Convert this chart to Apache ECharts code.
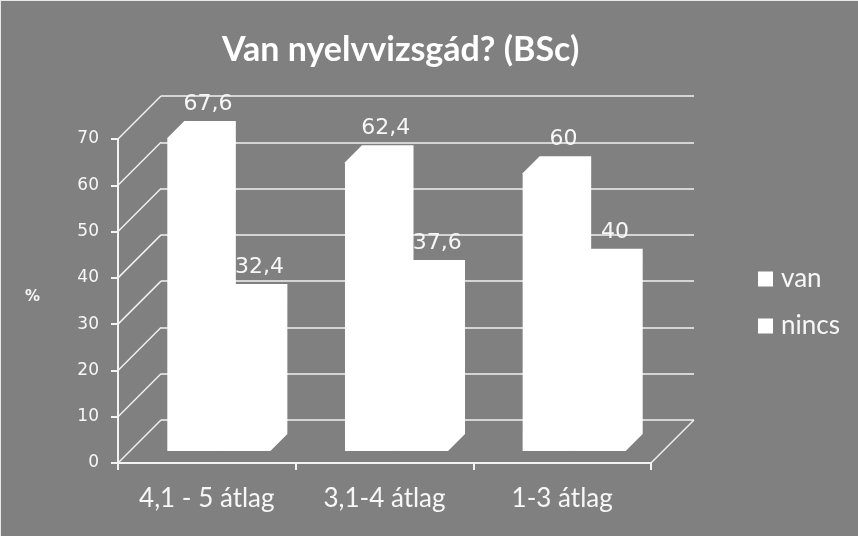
<!DOCTYPE html>
<html>
<head>
<meta charset="utf-8">
<script src="https://cdn.jsdelivr.net/npm/echarts@6/dist/echarts.min.js"></script>
<style>
html,body{margin:0;padding:0;background:#808080;}
#chart{width:858px;height:536px;box-sizing:border-box;border-top:1px solid #e8e8e8;border-left:1px solid #e8e8e8;}
</style>
</head>
<body>
<div id="chart"></div>
<script>
const categories = ['4,1 - 5 átlag', '3,1-4 átlag', '1-3 átlag'];
const vanValues = [67.6, 62.4, 60];
const nincsValues = [32.4, 37.6, 40];
const yTicks = [0, 10, 20, 30, 40, 50, 60, 70];
const seriesNames = ['van', 'nincs'];

const LINE = '#f2f2f2';
const TEXT = '#f7f7f7';
const WALL = 43;      // depth of the 3D box in px
const BAR_D0 = 12;    // bar front offset in depth
const BAR_D = 17;     // bar depth
const BAR_W = 0.29;   // bar width as fraction of band

const chart = echarts.init(document.getElementById('chart'), null, {renderer: 'canvas'});

function fmt(v) { return String(v).replace('.', ','); }

function barRenderer(k) {
  return function (params, api) {
    const ci = api.value(0), v = api.value(1);
    const base = api.coord([ci, 0]);
    const top = api.coord([ci, v]);
    const band = api.size([1, 0])[0];
    const bw = band * BAR_W;
    const cx = base[0] + BAR_D0;
    const x0 = cx + (k === 0 ? -bw : 0);
    const x1 = x0 + bw;
    const yb = base[1] - BAR_D0;
    const yt = top[1] - BAR_D0;
    const d = BAR_D;
    return {
      type: 'group',
      children: [
        {
          type: 'polygon',
          shape: {points: [[x0, yb], [x0, yt], [x0 + d, yt - d], [x1 + d, yt - d], [x1 + d, yb - d], [x1, yb]]},
          style: {fill: '#ffffff', stroke: null}
        },
        {
          type: 'text',
          z2: 10,
          style: {
            text: fmt(v), x: (x0 + x1) / 2 + d - 2, y: yt - d - 17,
            align: 'center', verticalAlign: 'middle',
            fill: TEXT, font: '22px "DejaVu Sans"'
          }
        }
      ]
    };
  };
}

function wallRenderer(params, api) {
  const v = api.value(1);
  const p = api.coord([0, v]);
  const band = api.size([1, 0])[0];
  const xl = p[0] - band / 2;
  const children = [{
    type: 'line',
    shape: {x1: xl, y1: p[1], x2: xl + WALL, y2: p[1] - WALL},
    style: {stroke: LINE, lineWidth: 1.5}
  }];
  if (v === 0) {
    const pr = api.coord([categories.length - 1, 0]);
    const xr = pr[0] + band / 2;
    children.push({
      type: 'line',
      shape: {x1: xr, y1: pr[1], x2: xr + WALL, y2: pr[1] - WALL},
      style: {stroke: LINE, lineWidth: 1.5}
    });
  }
  return {type: 'group', children: children};
}

const option = {
  backgroundColor: '#808080',
  animation: false,
  title: {
    text: 'Van nyelvvizsgád? (BSc)',
    left: 216, top: 27,
    textStyle: {color: '#ffffff', fontFamily: 'Lato', fontWeight: 'bold', fontSize: 34}
  },
  legend: {
    orient: 'vertical',
    left: 752, top: 260,
    itemWidth: 15, itemHeight: 15, itemGap: 21,
    icon: 'rect',
    data: seriesNames,
    textStyle: {color: TEXT, fontFamily: 'Lato', fontSize: 26, padding: [0, 0, 0, 3]}
  },
  graphic: [{
    type: 'text', left: 24, top: 289,
    style: {text: '%', fill: TEXT, font: 'bold 15px "DejaVu Sans"'}
  }],
  grid: [
    {left: 117, top: 138, width: 533, height: 324},
    {left: 117 + WALL, top: 138 - WALL, width: 533, height: 324}
  ],
  xAxis: [
    {
      type: 'category', gridIndex: 0, data: categories,
      axisLine: {lineStyle: {color: LINE, width: 2}},
      axisTick: {show: true, length: 7, lineStyle: {color: LINE, width: 2}},
      axisLabel: {color: TEXT, fontFamily: 'Lato', fontSize: 26, margin: 23},
      splitLine: {show: false}
    },
    {
      type: 'category', gridIndex: 1, data: categories, show: false
    }
  ],
  yAxis: [
    {
      type: 'value', gridIndex: 0, min: 0, max: 70, interval: 10,
      axisLine: {show: true, lineStyle: {color: LINE, width: 2}},
      axisTick: {show: true, length: 7, lineStyle: {color: LINE, width: 2}},
      axisLabel: {color: TEXT, fontFamily: 'DejaVu Sans', fontSize: 17, margin: 19},
      splitLine: {show: false}
    },
    {
      type: 'value', gridIndex: 1, min: 0, max: 70, interval: 10,
      axisLine: {show: false}, axisTick: {show: false}, axisLabel: {show: false},
      splitLine: {show: true, lineStyle: {color: LINE, width: 1.5}}
    }
  ],
  series: [
    {
      type: 'custom', name: 'walls', xAxisIndex: 0, yAxisIndex: 0, z: 1,
      renderItem: wallRenderer, silent: true,
      data: yTicks.map(v => [0, v])
    },
    {
      type: 'custom', name: 'van', xAxisIndex: 0, yAxisIndex: 0, z: 3,
      itemStyle: {color: '#ffffff'},
      renderItem: barRenderer(0),
      data: vanValues.map((v, i) => [i, v])
    },
    {
      type: 'custom', name: 'nincs', xAxisIndex: 0, yAxisIndex: 0, z: 3,
      itemStyle: {color: '#ffffff'},
      renderItem: barRenderer(1),
      data: nincsValues.map((v, i) => [i, v])
    }
  ]
};
chart.setOption(option);
</script>
</body>
</html>
